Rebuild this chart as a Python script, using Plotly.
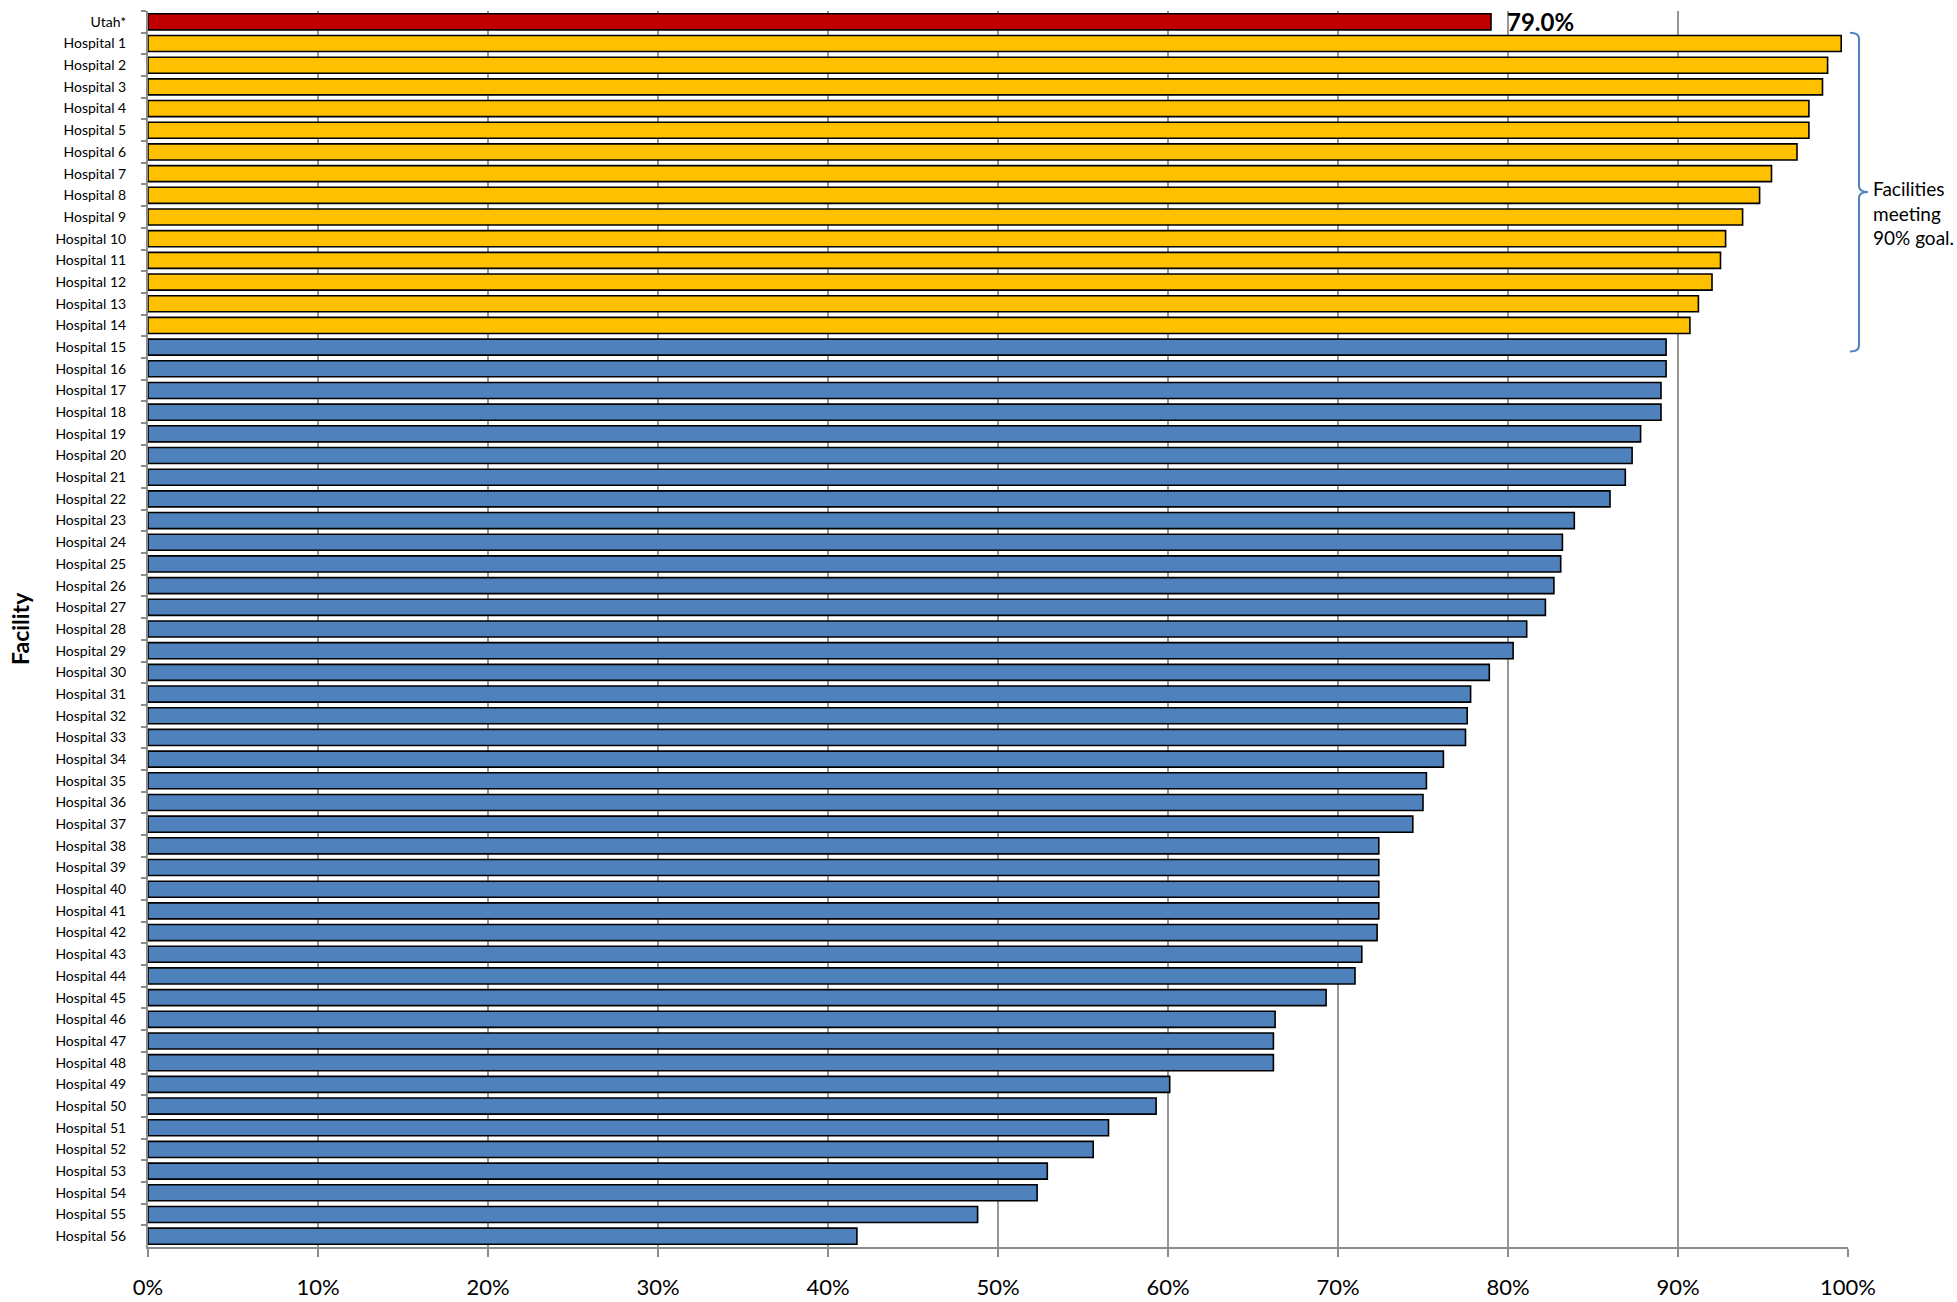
import plotly.graph_objects as go

# ---------------- data ----------------
state_label = "Utah*"
state_value = 79.0
hospital_labels = [f"Hospital {i}" for i in range(1, 57)]
hospital_values = [
    99.6, 98.8, 98.5, 97.7, 97.7, 97.0, 95.5, 94.8, 93.8, 92.8,
    92.5, 92.0, 91.2, 90.7, 89.3, 89.3, 89.0, 89.0, 87.8, 87.3,
    86.9, 86.0, 83.9, 83.2, 83.1, 82.7, 82.2, 81.1, 80.3, 78.9,
    77.8, 77.6, 77.5, 76.2, 75.2, 75.0, 74.4, 72.4, 72.4, 72.4,
    72.4, 72.3, 71.4, 71.0, 69.3, 66.3, 66.2, 66.2, 60.1, 59.3,
    56.5, 55.6, 52.9, 52.3, 48.8, 41.7,
]
goal = 90
x_tick_values = [0, 10, 20, 30, 40, 50, 60, 70, 80, 90, 100]
x_tick_labels = [f"{v}%" for v in x_tick_values]
axis_title = "Facility"
goal_note = "Facilities<br>meeting<br>90% goal."

# ---------------- styling ----------------
RED, YELLOW, BLUE = "#C00000", "#FFC000", "#4F81BD"
W, H = 1957, 1302
ML, MR, MT, MB = 148, 109, 11, 55
PW, PH = W - ML - MR, H - MT - MB
FONT = "Lato, 'Open Sans', sans-serif"
GRID = "#969696"
AXIS = "#8C8C8C"

labels = [state_label] + hospital_labels
values = [state_value] + hospital_values
colors = [RED] + [YELLOW if v >= goal else BLUE for v in hospital_values]
n = len(labels)

fig = go.Figure(
    go.Bar(
        x=values,
        y=labels,
        orientation="h",
        marker=dict(color=colors, line=dict(color="black", width=1.6)),
        hoverinfo="x+y",
    )
)

# bracket spanning facilities meeting the goal
meet_idx = [i + 1 for i, v in enumerate(hospital_values) if v >= goal]
def py(idx):
    return 1 - (idx + 0.5) / n

top_y = py(meet_idx[0] - 0.5)
bot_y = py(meet_idx[-1] + 1.2)
mid_y = (top_y + bot_y) / 2
xs = 1 + 2 / PW
xv = 1 + 11 / PW
xt = 1 + 20 / PW
r = 6 / PH
path = (
    f"M {xs},{top_y} Q {xv},{top_y} {xv},{top_y - r} "
    f"L {xv},{mid_y + r} Q {xv},{mid_y} {xt},{mid_y} "
    f"Q {xv},{mid_y} {xv},{mid_y - r} "
    f"L {xv},{bot_y + r} Q {xv},{bot_y} {xs},{bot_y}"
)
fig.add_shape(type="path", xref="paper", yref="paper", path=path,
              line=dict(color="#4F81BD", width=2))

fig.add_annotation(
    x=state_value, y=state_label, xref="x", yref="y",
    text=f"<b>{state_value:.1f}%</b>", showarrow=False,
    xanchor="left", yanchor="middle", xshift=14,
    font=dict(family=FONT, size=24, color="black"),
)
fig.add_annotation(
    x=0, y=0.5, xref="paper", yref="paper", xshift=-128,
    text=f"<b>{axis_title}</b>", showarrow=False, textangle=-90,
    xanchor="center", yanchor="middle",
    font=dict(family=FONT, size=23, color="black"),
)
fig.add_annotation(
    x=1, y=mid_y, xref="paper", yref="paper", xshift=23, yshift=-21,
    text=goal_note, showarrow=False, align="left",
    xanchor="left", yanchor="middle",
    font=dict(family=FONT, size=19, color="black"),
)

fig.update_layout(
    width=W, height=H,
    margin=dict(l=ML, r=MR, t=MT, b=MB, autoexpand=False),
    plot_bgcolor="white", paper_bgcolor="white",
    bargap=0.26, showlegend=False,
    font=dict(family=FONT, color="black"),
    xaxis=dict(
        range=[0, 100], tickvals=x_tick_values, ticktext=x_tick_labels,
        showgrid=True, gridcolor=GRID, gridwidth=1.5,
        showline=True, linecolor=AXIS, linewidth=2,
        ticks="outside", ticklen=8, tickcolor=AXIS, tickwidth=1.5,
        tickfont=dict(family=FONT, size=22, color="black"),
        ticklabelstandoff=12, zeroline=False, automargin=False,
    ),
    yaxis=dict(
        type="category", range=[n - 0.5, -0.5],
        showgrid=False, showline=True, linecolor=AXIS, linewidth=2,
        ticks="outside", ticklen=5, tickcolor=AXIS, tickwidth=1.5,
        tickson="boundaries",
        tickfont=dict(family=FONT, size=14, color="black"),
        ticklabelstandoff=17, automargin=False,
    ),
)

fig.write_html(
    "out.html",
    config={"displayModeBar": False},
    post_script="document.body.style.margin='0';document.body.style.overflow='hidden';",
)
